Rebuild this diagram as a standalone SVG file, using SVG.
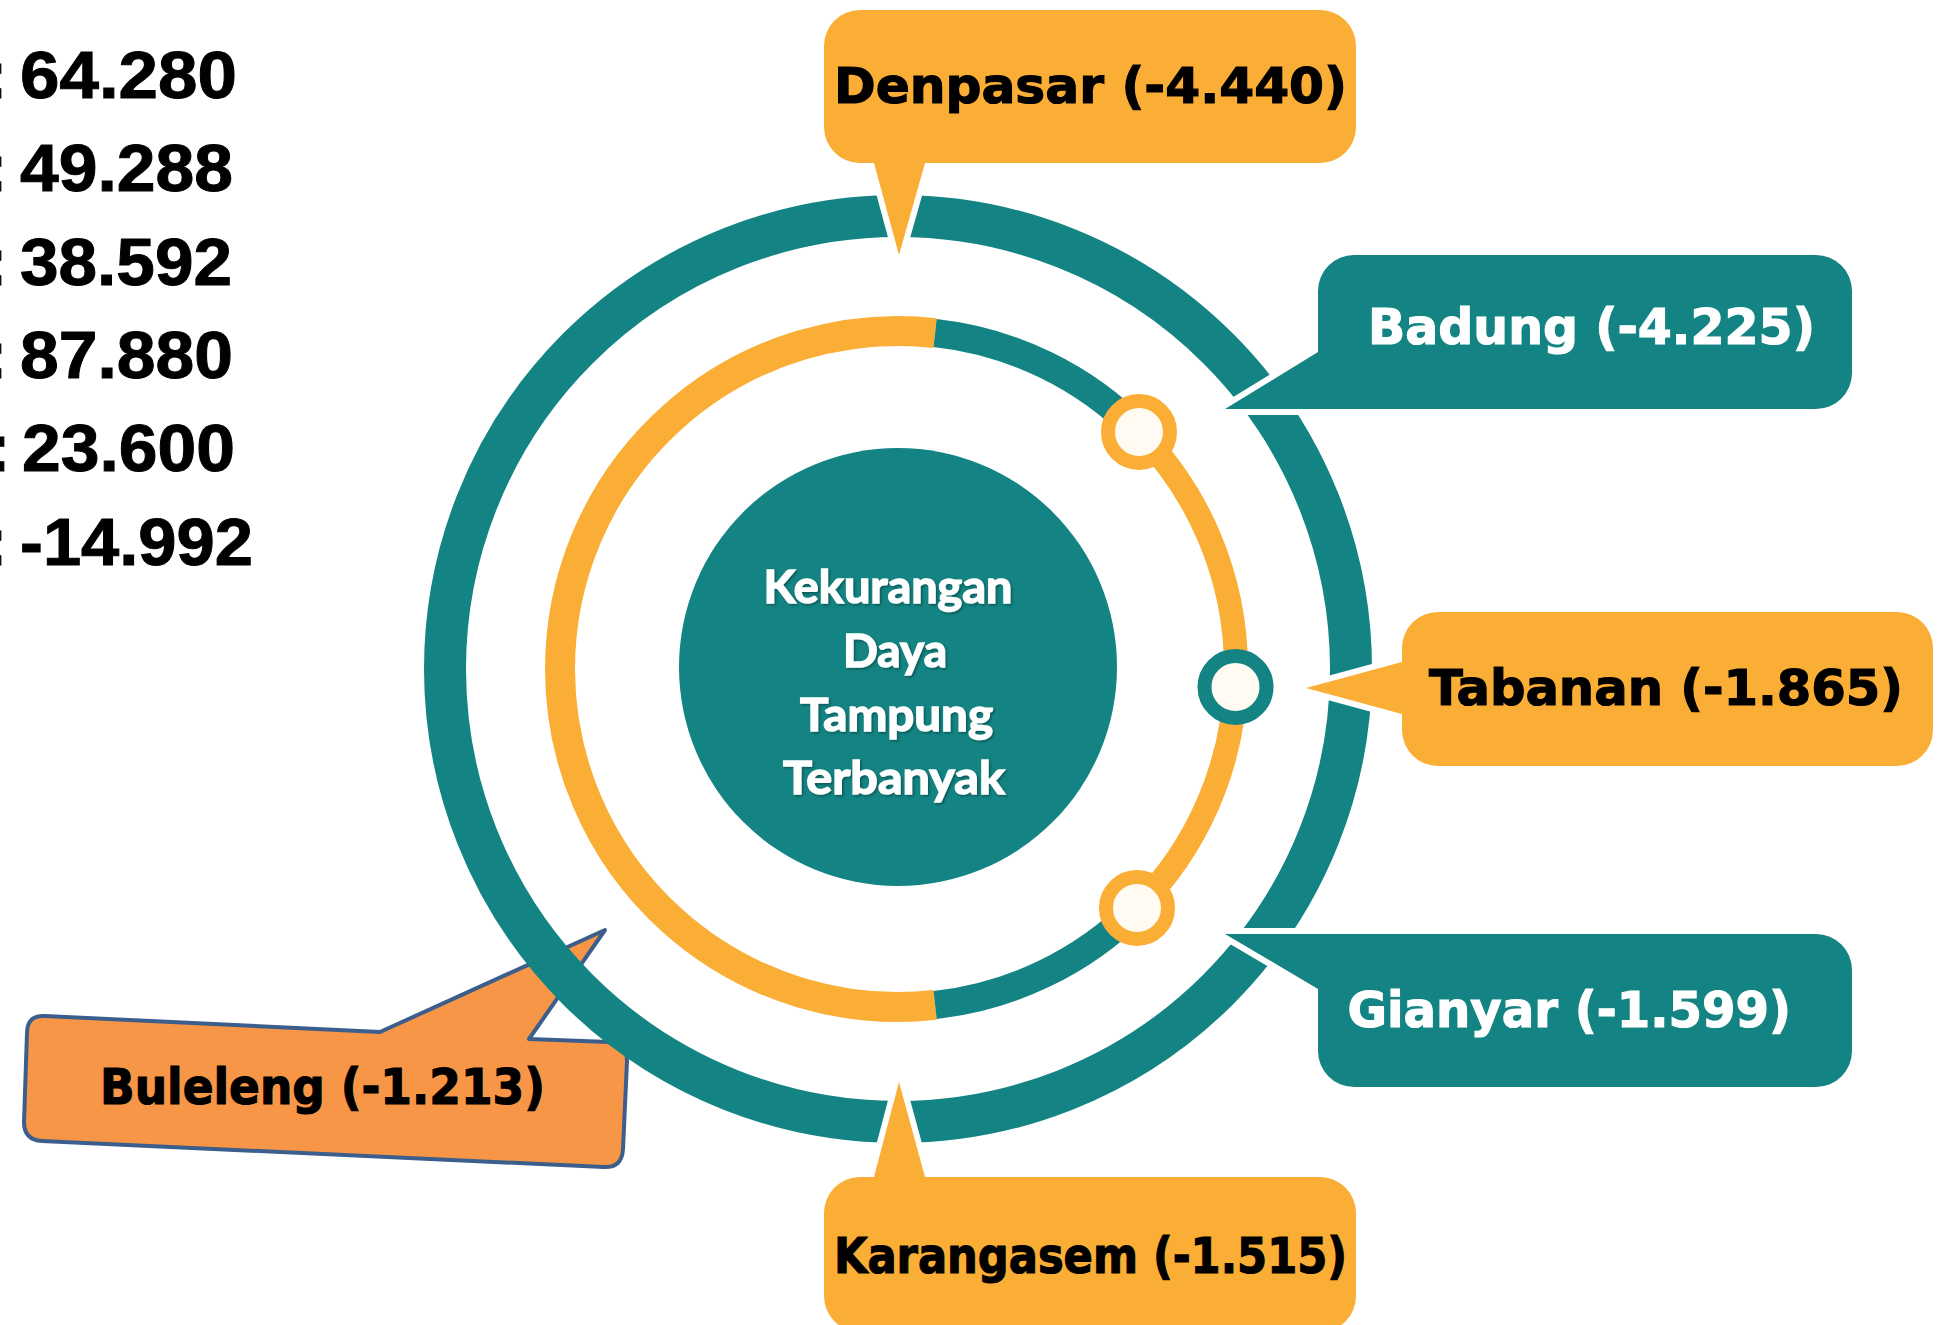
<svg xmlns="http://www.w3.org/2000/svg" width="1940" height="1325" viewBox="0 0 1940 1325">
<defs>
<style>
.num{font-family:"Liberation Sans",Arial,sans-serif;font-weight:bold;font-size:67px;fill:#000;stroke:#000;stroke-width:1}
.lbl{font-family:"DejaVu Sans","Liberation Sans",sans-serif;font-weight:bold;font-size:50px;stroke-width:1.2}
.ctr{font-family:Lato,"Open Sans",sans-serif;font-weight:bold;font-size:45px;fill:#fff;stroke:#fff;stroke-width:1.4;text-anchor:middle}
.amber{fill:#FBAE35}
.teal{fill:#138483}
.co{stroke:#fff;stroke-width:12;paint-order:stroke;stroke-linejoin:round}
.ring{fill:none;stroke-linecap:butt}
.dot{fill:#FFFBF2;stroke-width:14}
</style>
<filter id="sh" x="-10%" y="-10%" width="120%" height="130%">
<feDropShadow dx="1.5" dy="1.5" stdDeviation="1" flood-color="#000" flood-opacity="0.35"/>
</filter>
</defs>
<rect width="1940" height="1325" fill="#fff"/>

<g id="values">
<text class="num" x="-15" y="97.6">:</text>
<text class="num" x="20" y="97.6" textLength="217" lengthAdjust="spacingAndGlyphs">64.280</text>
<text class="num" x="-15" y="191">:</text>
<text class="num" x="20" y="191" textLength="213" lengthAdjust="spacingAndGlyphs">49.288</text>
<text class="num" x="-15" y="284.5">:</text>
<text class="num" x="20" y="284.5" textLength="212" lengthAdjust="spacingAndGlyphs">38.592</text>
<text class="num" x="-15" y="377.5">:</text>
<text class="num" x="20" y="377.5" textLength="213" lengthAdjust="spacingAndGlyphs">87.880</text>
<text class="num" x="-12" y="470.5">:</text>
<text class="num" x="22" y="470.5" textLength="213" lengthAdjust="spacingAndGlyphs">23.600</text>
<text class="num" x="-15" y="564.5">:</text>
<text class="num" x="20" y="564.5" textLength="233" lengthAdjust="spacingAndGlyphs">-14.992</text>
</g>

<g id="buleleng">
<path d="M45,1016 L380,1032 L605,930 L529,1039 L609,1042 Q627,1043 627,1061 L623,1149 Q622,1168 604,1167 L42,1141 Q24,1140 24,1122 L27,1033 Q27,1015 45,1016 Z" fill="#F79646" stroke="#3B5E8C" stroke-width="4" stroke-linejoin="round"/>
<text class="lbl" x="100" y="1104" textLength="445" lengthAdjust="spacingAndGlyphs" fill="#000" stroke="#000">Buleleng (-1.213)</text>
</g>

<g id="connectors">
<circle class="ring" cx="898" cy="669" r="453" stroke="#138483" stroke-width="42"/>
<path class="ring" d="M935.09,333.04 A338,338 0 1 0 935.09,1004.96" stroke="#FBAE35" stroke-width="30"/>
<path class="ring" d="M935.09,333.04 A338,338 0 0 1 1139.08,432.09" stroke="#138483" stroke-width="28"/>
<path class="ring" d="M1139.08,432.09 A338,338 0 0 1 1137,908" stroke="#FBAE35" stroke-width="24"/>
<path class="ring" d="M1137,908 A338,338 0 0 1 935.09,1004.96" stroke="#138483" stroke-width="28"/>
</g>

<g id="dot1"><circle class="dot" cx="1139" cy="432" r="31" stroke="#FBAE35"/></g>
<g id="dot2"><circle class="dot" cx="1235.5" cy="687" r="31" stroke="#138483"/></g>
<g id="dot3"><circle class="dot" cx="1137" cy="908" r="31" stroke="#FBAE35"/></g>

<g id="center">
<circle cx="898" cy="667" r="219" fill="#138483"/>
<g filter="url(#sh)">
<text class="ctr" x="888" y="602.7" textLength="249" lengthAdjust="spacingAndGlyphs">Kekurangan</text>
<text class="ctr" x="895" y="666.7" textLength="104" lengthAdjust="spacingAndGlyphs">Daya</text>
<text class="ctr" x="896.5" y="730.7" textLength="193" lengthAdjust="spacingAndGlyphs">Tampung</text>
<text class="ctr" x="894" y="793.5" textLength="222" lengthAdjust="spacingAndGlyphs">Terbanyak</text>
</g>
</g>

<g id="denpasar">
<path class="co amber" d="M860,10 H1320 A36,36 0 0 1 1356,46 V127 A36,36 0 0 1 1320,163 H925 L899,255 L874,163 H860 A36,36 0 0 1 824,127 V46 A36,36 0 0 1 860,10 Z"/>
<text class="lbl" x="834" y="103" textLength="513" lengthAdjust="spacingAndGlyphs" fill="#000" stroke="#000">Denpasar (-4.440)</text>
</g>

<g id="badung">
<path class="co teal" d="M1354,255 H1816 A36,36 0 0 1 1852,291 V373 A36,36 0 0 1 1816,409 H1225 L1318,352 V291 A36,36 0 0 1 1354,255 Z"/>
<text class="lbl" x="1368" y="343.5" textLength="447" lengthAdjust="spacingAndGlyphs" fill="#fff" stroke="#fff">Badung (-4.225)</text>
</g>

<g id="tabanan">
<path class="co amber" d="M1438,612 H1897 A36,36 0 0 1 1933,648 V730 A36,36 0 0 1 1897,766 H1438 A36,36 0 0 1 1402,730 V714 L1306,688 L1402,662 V648 A36,36 0 0 1 1438,612 Z"/>
<text class="lbl" x="1429" y="705" textLength="474" lengthAdjust="spacingAndGlyphs" fill="#000" stroke="#000">Tabanan (-1.865)</text>
</g>

<g id="gianyar">
<path class="co teal" d="M1225,934 H1816 A36,36 0 0 1 1852,970 V1051 A36,36 0 0 1 1816,1087 H1354 A36,36 0 0 1 1318,1051 V989 Z"/>
<text class="lbl" x="1347.5" y="1026.6" textLength="443.5" lengthAdjust="spacingAndGlyphs" fill="#fff" stroke="#fff">Gianyar (-1.599)</text>
</g>

<g id="karangasem">
<path class="co amber" d="M860,1177 H874 L899,1082 L925,1177 H1320 A36,36 0 0 1 1356,1213 V1296 A36,36 0 0 1 1320,1332 H860 A36,36 0 0 1 824,1296 V1213 A36,36 0 0 1 860,1177 Z"/>
<text class="lbl" x="834" y="1273" textLength="513" lengthAdjust="spacingAndGlyphs" fill="#000" stroke="#000">Karangasem (-1.515)</text>
</g>
</svg>
